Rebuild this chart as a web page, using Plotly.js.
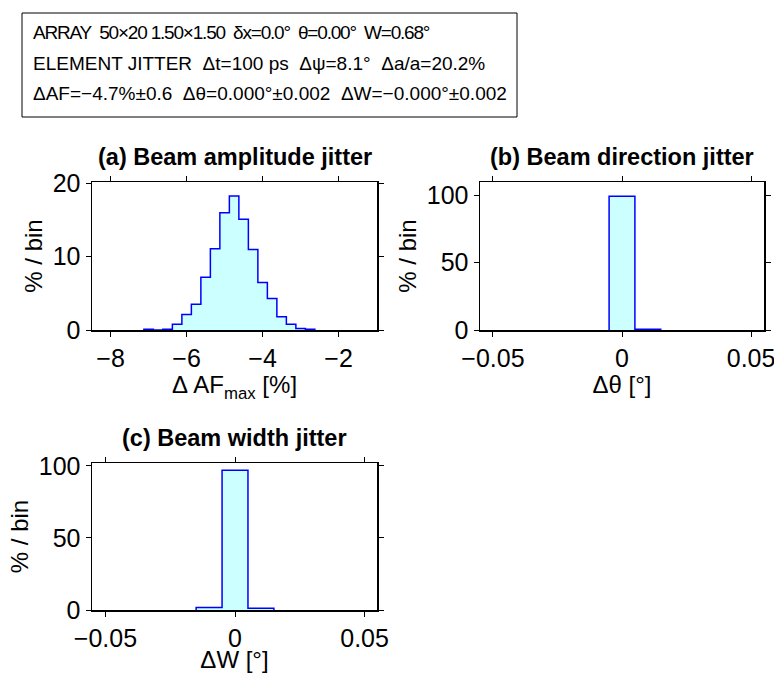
<!DOCTYPE html>
<html>
<head>
<meta charset="utf-8">
<script src="https://cdn.plot.ly/plotly-3.0.1.min.js"></script>
<style>html,body{margin:0;padding:0;background:#fff;}#chart{width:774px;height:673px;}</style>
</head>
<body>
<div id="chart"></div>
<script>
// ---- Data ----
// (a) Beam amplitude jitter: bin centres [%] and percentage per bin
var ampCenters = [-7.0, -6.75, -6.5, -6.25, -6.0, -5.75, -5.5, -5.25, -5.0, -4.75, -4.5, -4.25, -4.0, -3.75, -3.5, -3.25, -3.0, -2.75];
var ampPercent = [0.1, 0.0, 0.1, 0.8, 2.1, 3.5, 7.2, 11.1, 16.0, 18.3, 15.1, 11.0, 6.5, 4.3, 1.8, 0.8, 0.2, 0.1];
// (b) Beam direction jitter: bin centres [deg]
var dirCenters = [0.0, 0.01];
var dirPercent = [99.4, 0.6];
// (c) Beam width jitter: bin centres [deg]
var widCenters = [-0.01, 0.0, 0.01];
var widPercent = [1.8, 96.9, 1.3];

var ampTicks = [-8, -6, -4, -2];
var degTicks = [-0.05, 0, 0.05];

var infoLines = [
  "ARRAY\u00a0\u00a050\u00d720 1.50\u00d71.50\u00a0\u00a0\u03b4x=0.0\u00b0\u00a0\u00a0\u03b8=0.00\u00b0\u00a0\u00a0W=0.68\u00b0",
  "ELEMENT JITTER\u00a0\u00a0\u0394t=100 ps\u00a0\u00a0\u0394\u03c8=8.1\u00b0\u00a0\u00a0\u0394a/a=20.2%",
  "\u0394AF=\u22124.7%\u00b10.6\u00a0\u00a0\u0394\u03b8=0.000\u00b0\u00b10.002\u00a0\u00a0\u0394W=\u22120.000\u00b0\u00b10.002"
];
var panelTitles = ["(a) Beam amplitude jitter", "(b) Beam direction jitter", "(c) Beam width jitter"];

// ---- helpers ----
function stepTrace(centers, values, xa, ya) {
  var w = centers[1] - centers[0];
  var x = [centers[0] - w / 2], y = [0];
  for (var i = 0; i < centers.length; i++) {
    x.push(centers[i] - w / 2); y.push(values[i]);
  }
  x.push(centers[centers.length - 1] + w / 2); y.push(values[values.length - 1]);
  x.push(centers[centers.length - 1] + w / 2); y.push(0);
  return {
    type: 'scatter', mode: 'lines', x: x, y: y, xaxis: xa, yaxis: ya,
    line: {shape: 'hv', color: '#0000ff', width: 1.5},
    fill: 'tozeroy', fillcolor: '#ccffff', hoverinfo: 'skip', showlegend: false
  };
}

var W = 774, H = 673;
function px2x(p) { return p / W; }
function px2y(p) { return 1 - p / H; }

var FAM = 'Liberation Sans, Arial, sans-serif';
var tickFont = {family: FAM, size: 25, color: '#000'};
var titleFont = {family: FAM, size: 24, color: '#000'};

function axisBase(extra) {
  var a = {
    showline: true, linecolor: '#000', linewidth: 1.5, mirror: 'ticks',
    ticks: 'outside', ticklen: 5, tickwidth: 1, tickcolor: '#000',
    showgrid: false, zeroline: false, tickfont: tickFont, fixedrange: true,
    ticklabeloverflow: 'allow'
  };
  for (var k in extra) a[k] = extra[k];
  return a;
}

var data = [
  stepTrace(ampCenters, ampPercent, 'x', 'y'),
  stepTrace(dirCenters, dirPercent, 'x2', 'y2'),
  stepTrace(widCenters, widPercent, 'x3', 'y3')
];

var layout = {
  width: W, height: H,
  margin: {l: 0, r: 0, t: 0, b: 0},
  paper_bgcolor: '#fff', plot_bgcolor: '#fff',
  font: {family: FAM, color: '#000'},
  showlegend: false,
  xaxis: axisBase({domain: [px2x(92), px2x(377)], range: [-8.49, -0.99], tickvals: ampTicks, anchor: 'y',
    title: {text: '\u0394 AF<sub>max</sub> [%]', font: titleFont, standoff: 0}}),
  yaxis: axisBase({domain: [px2y(330), px2y(182)], range: [0, 20.2], dtick: 10, anchor: 'x',
    title: {text: '% / bin', font: titleFont, standoff: 3}}),
  xaxis2: axisBase({domain: [px2x(480), px2x(764)], range: [-0.055, 0.055], tickvals: degTicks, anchor: 'y2',
    title: {text: '\u0394\u03b8 [\u00b0]', font: titleFont, standoff: 1}}),
  yaxis2: axisBase({domain: [px2y(330), px2y(182)], range: [0, 110], dtick: 50, anchor: 'x2',
    title: {text: '% / bin', font: titleFont, standoff: 3}}),
  xaxis3: axisBase({domain: [px2x(92), px2x(377)], range: [-0.0552, 0.0548], tickvals: degTicks, anchor: 'y3',
    title: {text: '\u0394W [\u00b0]', font: titleFont, standoff: 9}}),
  yaxis3: axisBase({domain: [px2y(610), px2y(463)], range: [0, 102], dtick: 50, anchor: 'x3',
    title: {text: '% / bin', font: titleFont, standoff: 3}}),
  shapes: [{type: 'rect', xref: 'paper', yref: 'paper', x0: px2x(22), x1: px2x(517), y0: px2y(117), y1: px2y(13),
    line: {color: '#000', width: 1}, fillcolor: 'rgba(0,0,0,0)'}],
  annotations: []
};

var lineY = [32, 63, 94];
var lineStyle = ['letter-spacing:-1.2px', '', ''];
for (var i = 0; i < infoLines.length; i++) {
  var t = lineStyle[i] ? '<span style="' + lineStyle[i] + '">' + infoLines[i] + '</span>' : infoLines[i];
  layout.annotations.push({xref: 'paper', yref: 'paper', x: px2x(31), y: px2y(lineY[i]), xanchor: 'left', yanchor: 'middle',
    text: t, showarrow: false, font: {family: FAM, size: 19, color: '#000'}});
}
var titlePos = [[234.5, 157], [622, 157], [234.5, 438]];
for (var j = 0; j < panelTitles.length; j++) {
  layout.annotations.push({xref: 'paper', yref: 'paper', x: px2x(titlePos[j][0]), y: px2y(titlePos[j][1]),
    xanchor: 'center', yanchor: 'middle', text: '<b>' + panelTitles[j] + '</b>', showarrow: false,
    font: {family: FAM, size: 23.5, color: '#000'}});
}

Plotly.newPlot('chart', data, layout, {staticPlot: true, displayModeBar: false});
</script>
</body>
</html>
